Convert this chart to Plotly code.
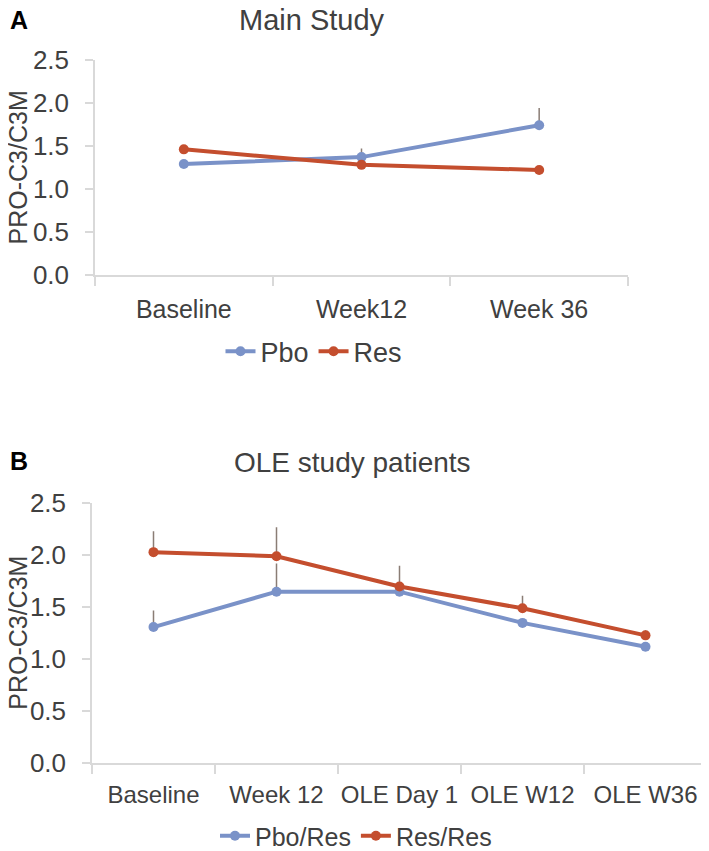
import plotly.graph_objects as go

# panel A data (main study)
visits_a = ["Baseline", "Week12", "Week 36"]
pbo = [1.29, 1.37, 1.74]
pbo_err = [0.03, 0.10, 0.20]
res = [1.46, 1.28, 1.22]
res_err = [0.05, 0.04, 0.03]

# panel B data (OLE study patients)
visits_b = ["Baseline", "Week 12", "OLE Day 1", "OLE W12", "OLE W36"]
pbo_res = [1.31, 1.65, 1.65, 1.35, 1.12]
pbo_res_err = [0.16, 0.27, 0.03, 0.04, 0.02]
res_res = [2.03, 1.99, 1.70, 1.49, 1.23]
res_res_err = [0.20, 0.28, 0.20, 0.12, 0.05]

blue = "#7a92c8"
red = "#c44e2e"
err_col = "#8a7d75"
txt = "#404040"
font = "Liberation Sans, Arial, sans-serif"

W, H = 709, 851
OFF = 8  # page body margin


def px_x(p):
    return (p - OFF) / W


def px_y(p):
    return 1 - (p - OFF) / H


def series(x, y, err, name, color, xa, ya, legend):
    return go.Scatter(
        x=x, y=y, name=name, mode="lines+markers",
        line=dict(color=color, width=4),
        marker=dict(color=color, size=10),
        error_y=dict(type="data", symmetric=False, array=err,
                     arrayminus=[0] * len(err), color=err_col,
                     thickness=1.5, width=0),
        xaxis=xa, yaxis=ya, legend=legend,
    )


fig = go.Figure()
fig.add_trace(series(visits_a, pbo, pbo_err, "Pbo", blue, "x", "y", "legend"))
fig.add_trace(series(visits_a, res, res_err, "Res", red, "x", "y", "legend"))
fig.add_trace(series(visits_b, pbo_res, pbo_res_err, "Pbo/Res", blue, "x2", "y2", "legend2"))
fig.add_trace(series(visits_b, res_res, res_res_err, "Res/Res", red, "x2", "y2", "legend2"))

xcommon = dict(showline=True, linecolor="#d9d9d9", linewidth=1.5,
               ticks="outside", tickcolor="#d9d9d9", ticklen=9, tickwidth=1.5,
               tickson="boundaries", showgrid=False, zeroline=False,
               automargin=False, tickangle=0)
ycommon = dict(range=[0, 2.5], dtick=0.5, tickformat=".1f",
               showline=True, linecolor="#d9d9d9", linewidth=1.5,
               ticks="outside", tickcolor="#d9d9d9", ticklen=8, tickwidth=1.5,
               showgrid=False, zeroline=False, automargin=False,
               tickfont=dict(size=26, color=txt, family=font),
               ticklabelstandoff=11)

fig.update_layout(
    width=W, height=H,
    margin=dict(l=0, r=0, t=0, b=0),
    paper_bgcolor="white", plot_bgcolor="white",
    font=dict(family=font, color=txt),
    xaxis=dict(xcommon, domain=[px_x(95), px_x(628)], range=[-0.5, 2.5], anchor="y",
               tickfont=dict(size=25, color=txt, family=font), ticklabelstandoff=11),
    yaxis=dict(ycommon, domain=[px_y(276), px_y(60)], anchor="x"),
    xaxis2=dict(xcommon, domain=[px_x(92), px_x(707)], range=[-0.5, 4.5], anchor="y2",
                tickfont=dict(size=24, color=txt, family=font), ticklabelstandoff=9),
    yaxis2=dict(ycommon, domain=[px_y(766), px_y(505)], anchor="x2"),
    legend=dict(orientation="h", x=px_x(314), y=px_y(353), xanchor="center",
                yanchor="middle", font=dict(size=27, color=txt, family=font),
                itemwidth=30, tracegroupgap=0, bgcolor="rgba(0,0,0,0)"),
    legend2=dict(orientation="h", x=px_x(356), y=px_y(839), xanchor="center",
                 yanchor="middle", font=dict(size=25, color=txt, family=font),
                 itemwidth=30, tracegroupgap=0, bgcolor="rgba(0,0,0,0)"),
    annotations=[
        dict(text="<b>A</b>", x=0, y=px_y(20), xref="paper", yref="paper",
             xanchor="left", yanchor="middle", showarrow=False,
             font=dict(size=25, color="black", family=font)),
        dict(text="Main Study", x=px_x(312), y=px_y(20), xref="paper", yref="paper",
             xanchor="center", yanchor="middle", showarrow=False,
             font=dict(size=29, color=txt, family=font)),
        dict(text="PRO-C3/C3M", x=px_x(18), y=px_y(168), xref="paper", yref="paper",
             xanchor="center", yanchor="middle", showarrow=False, textangle=-90,
             font=dict(size=25, color=txt, family=font)),
        dict(text="<b>B</b>", x=0, y=px_y(463), xref="paper", yref="paper",
             xanchor="left", yanchor="middle", showarrow=False,
             font=dict(size=25, color="black", family=font)),
        dict(text="OLE study patients", x=px_x(352), y=px_y(464), xref="paper", yref="paper",
             xanchor="center", yanchor="middle", showarrow=False,
             font=dict(size=28, color=txt, family=font)),
        dict(text="PRO-C3/C3M", x=px_x(18), y=px_y(635), xref="paper", yref="paper",
             xanchor="center", yanchor="middle", showarrow=False, textangle=-90,
             font=dict(size=25, color=txt, family=font)),
    ],
)

fig.write_html("out.html")
